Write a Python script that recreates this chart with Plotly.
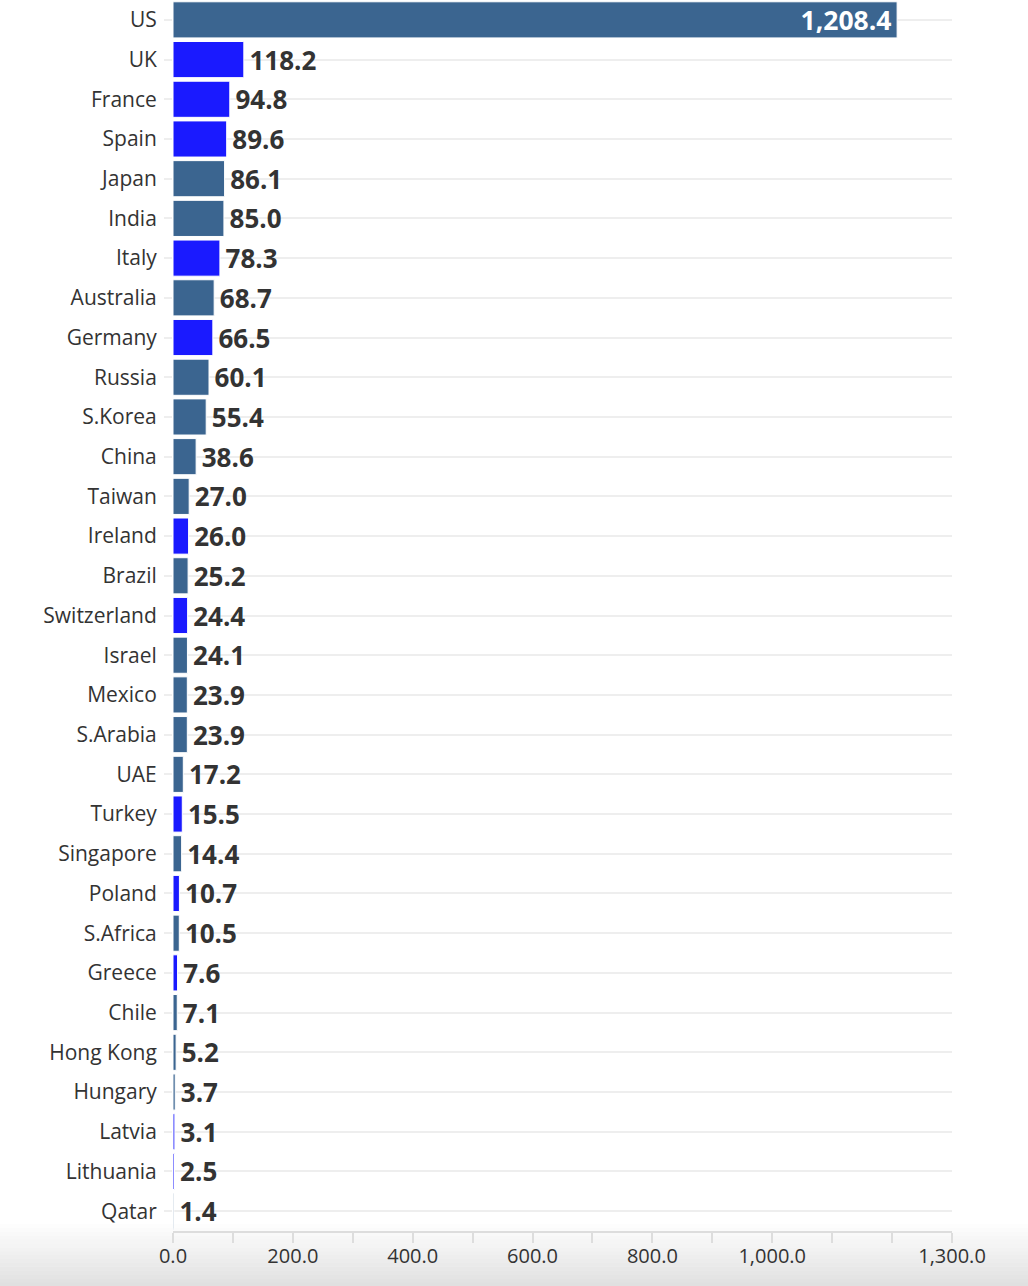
import plotly.graph_objects as go

countries = ["US", "UK", "France", "Spain", "Japan", "India", "Italy", "Australia", "Germany",
             "Russia", "S.Korea", "China", "Taiwan", "Ireland", "Brazil", "Switzerland", "Israel",
             "Mexico", "S.Arabia", "UAE", "Turkey", "Singapore", "Poland", "S.Africa", "Greece",
             "Chile", "Hong Kong", "Hungary", "Latvia", "Lithuania", "Qatar"]
values = [1208.4, 118.2, 94.8, 89.6, 86.1, 85.0, 78.3, 68.7, 66.5, 60.1, 55.4, 38.6, 27.0, 26.0,
          25.2, 24.4, 24.1, 23.9, 23.9, 17.2, 15.5, 14.4, 10.7, 10.5, 7.6, 7.1, 5.2, 3.7, 3.1, 2.5, 1.4]
highlight = {"UK", "France", "Spain", "Italy", "Germany", "Ireland", "Switzerland", "Turkey",
             "Poland", "Greece", "Latvia", "Lithuania"}
tick_vals = [0, 100, 200, 300, 400, 500, 600, 700, 800, 900, 1000, 1100, 1200, 1300]
tick_text = ["0.0", "", "200.0", "", "400.0", "", "600.0", "", "800.0", "", "1,000.0", "", "", "1,300.0"]

DARK = "#3b6590"
BRIGHT = "#1a1aff"
colors = [BRIGHT if c in highlight else DARK for c in countries]
positions = ["inside" if v > 1000 else "outside" for v in values]
labels = [f"{v:,.1f}" + "\u200a" if v > 1000 else "\u200a" + f"{v:,.1f}" for v in values]

fig = go.Figure(go.Bar(
    x=values, y=countries, orientation="h",
    marker=dict(color=colors, line=dict(color="white", width=1)),
    text=labels,
    textposition=positions,
    insidetextanchor="end",
    constraintext="none",
    insidetextfont=dict(color="white", size=26.5, family="Open Sans", weight="bold"),
    outsidetextfont=dict(color="#333333", size=26, family="Open Sans", weight="bold"),
    cliponaxis=False,
    hoverinfo="x+y",
))

shapes = []
n = 16
top_px, bot_px, plot_h = 1224, 1286, 1231
for i in range(n):
    y0 = top_px + (bot_px - top_px) * i / n
    y1 = top_px + (bot_px - top_px) * (i + 1) / n
    shapes.append(dict(type="rect", xref="paper", yref="paper",
                       x0=-173 / 779, x1=(1028 - 173) / 779,
                       y0=(plot_h - y1) / plot_h, y1=(plot_h - y0) / plot_h,
                       fillcolor=f"rgba(0,0,0,{0.0075 * (i + 1):.4f})", line=dict(width=0),
                       layer="below"))

fig.update_layout(
    width=1028, height=1286,
    margin=dict(l=173, r=76, t=0, b=55),
    paper_bgcolor="white", plot_bgcolor="rgba(0,0,0,0)",
    font=dict(family="Open Sans", color="#333333", size=20),
    bargap=0.09,
    showlegend=False,
    shapes=shapes,
    xaxis=dict(range=[0, 1300], tickvals=tick_vals, ticktext=tick_text, showgrid=False,
               zeroline=False, showline=True, linecolor="#dddddd", linewidth=2,
               ticks="outside", ticklen=10, tickcolor="#dddddd", tickwidth=2,
               ticklabelstandoff=-4,
               tickfont=dict(size=20, color="#333333")),
    yaxis=dict(autorange="reversed", showgrid=True, gridcolor="#eeeeee", gridwidth=2,
               ticks="outside", ticklen=8, tickcolor="#eeeeee", tickwidth=2,
               ticklabelstandoff=3,
               showline=False, zeroline=False, tickfont=dict(size=21, color="#333333")),
)

fig.write_html("out.html")
